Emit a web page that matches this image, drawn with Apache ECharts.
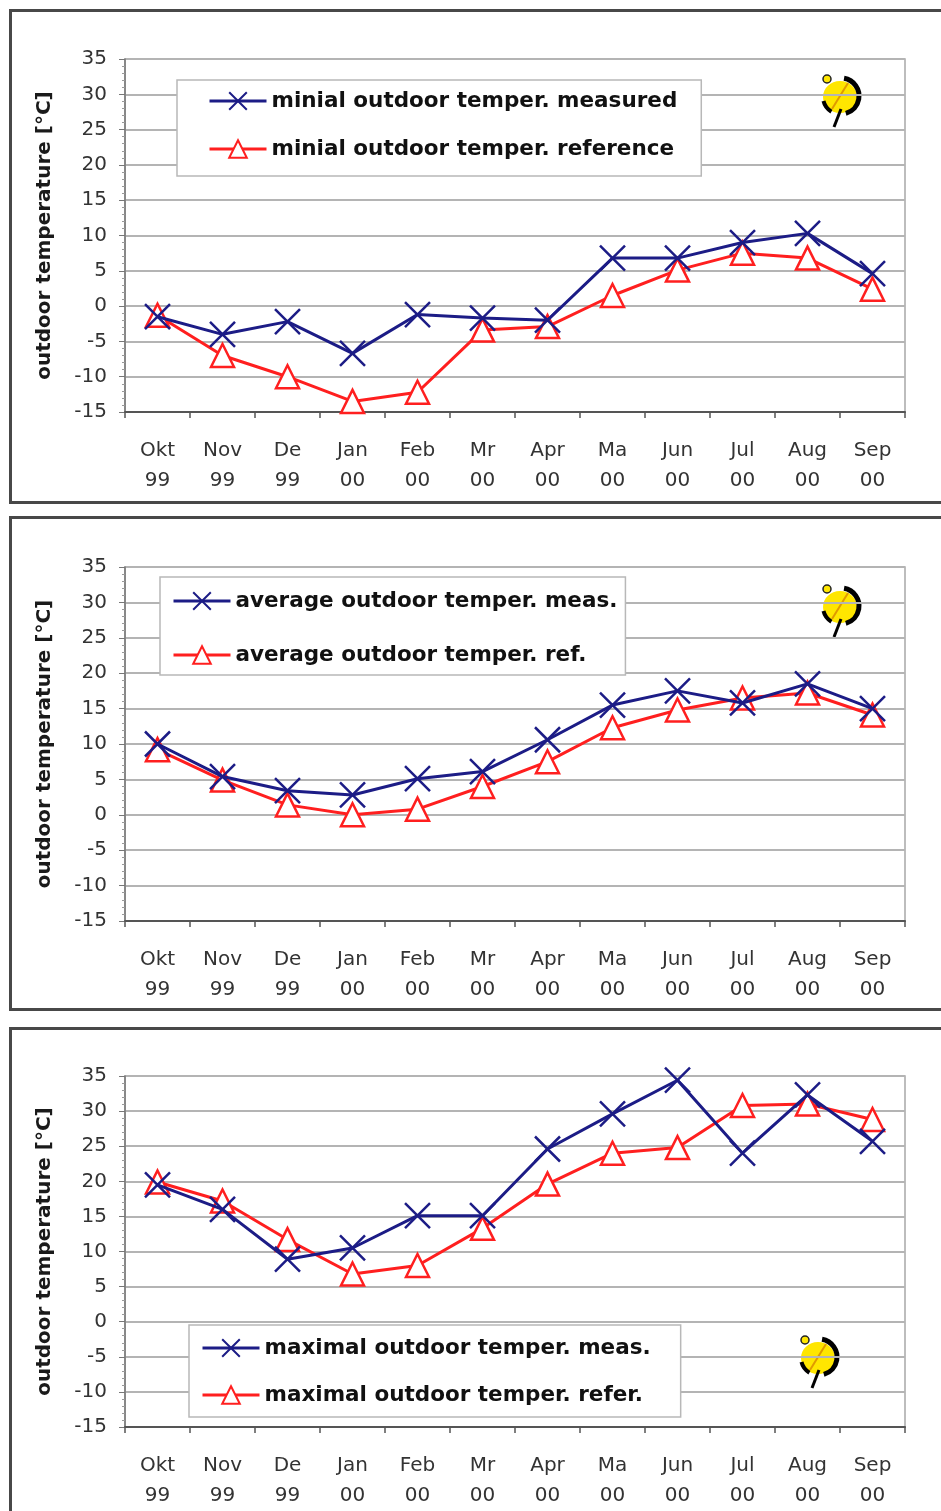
<!DOCTYPE html>
<html>
<head>
<meta charset="utf-8">
<script src="https://cdn.jsdelivr.net/npm/echarts@6/dist/echarts.min.js"></script>
<style>
html,body{margin:0;padding:0;background:#fff;}
#chart{width:941px;height:1511px;}
</style>
</head>
<body>
<div id="chart"></div>
<script>
const months = ['Okt', 'Nov', 'De', 'Jan', 'Feb', 'Mr', 'Apr', 'Ma', 'Jun', 'Jul', 'Aug', 'Sep'];
const years = ['99', '99', '99', '00', '00', '00', '00', '00', '00', '00', '00', '00'];
const yTicks = [-15, -10, -5, 0, 5, 10, 15, 20, 25, 30, 35];

const minMeasured  = [-1.5, -4, -2.2, -6.7, -1.2, -1.7, -2, 6.8, 6.8, 9, 10.3, 4.6];
const minReference = [-1.3, -7, -10, -13.5, -12.2, -3.4, -2.9, 1.5, 5.1, 7.5, 6.8, 2.4];
const avgMeasured  = [10, 5.4, 3.4, 2.8, 5.1, 6.1, 10.6, 15.5, 17.5, 15.8, 18.5, 15];
const avgReference = [9.2, 4.9, 1.4, 0, 0.8, 4, 7.5, 12.3, 14.8, 16.5, 17.2, 14.1];
const maxMeasured  = [19.5, 16, 8.9, 10.5, 15.1, 15.1, 24.6, 29.6, 34.4, 24, 32.3, 25.7];
const maxReference = [19.9, 17.2, 11.7, 6.8, 8, 13.3, 19.6, 24, 24.8, 30.8, 31, 28.8];

const seriesNames = [
  ['minial outdoor temper. measured', 'minial outdoor temper. reference'],
  ['average outdoor temper. meas.', 'average outdoor temper. ref.'],
  ['maximal outdoor temper. meas.', 'maximal outdoor temper. refer.']
];
const seriesData = [[minMeasured, minReference], [avgMeasured, avgReference], [maxMeasured, maxReference]];

const categories = months.map((m, i) => m + '\n' + years[i]);
const BLUE = '#1c1c86';
const RED = '#ff1f1f';
const FONT = 'DejaVu Sans';

const gridTops = [59, 567, 1076];
const gridHeights = [353, 354, 355];
const legendPos = [
  {left: 177, top: 80, padding: [10, 24, 16, 31], itemGap: 26},
  {left: 160, top: 577, padding: [13, 8, 9, 12], itemGap: 32},
  {left: 189, top: 1325, padding: [12, 30, 11, 12], itemGap: 25}
];
const logoPos = [[840, 97], [840, 607], [818, 1358]];
const frameTops = [8, 515, 1026];
const frameHeights = [492, 492, 520];

const grids = [], xAxes = [], yAxes = [], series = [], legends = [], graphics = [];
for (let p = 0; p < 3; p++) {
  grids.push({left: 125, top: gridTops[p], width: 780, height: gridHeights[p], show: true, borderColor: '#a8a8a8', borderWidth: 1.5, backgroundColor: '#fff'});
  xAxes.push({
    type: 'category', gridIndex: p, data: categories, boundaryGap: true,
    axisLine: {onZero: false, lineStyle: {color: '#555', width: 2}},
    axisTick: {show: true, length: 6, lineStyle: {color: '#555', width: 1.5}},
    axisLabel: {color: '#333', fontFamily: FONT, fontSize: 20, lineHeight: 30, margin: 24, interval: 0},
    splitLine: {show: false}
  });
  yAxes.push({
    type: 'value', gridIndex: p, min: -15, max: 35, interval: 5,
    name: 'outdoor temperature [°C]', nameLocation: 'middle', nameRotate: 90, nameGap: 70,
    nameTextStyle: {fontFamily: FONT, fontSize: 20, fontWeight: 'bold', color: '#1a1a1a'},
    axisLine: {show: true, lineStyle: {color: '#777', width: 1.5}},
    axisTick: {show: true, length: 6, lineStyle: {color: '#777'}},
    minorTick: {show: true, splitNumber: 5, length: 3, lineStyle: {color: '#999'}},
    axisLabel: {color: '#333', fontFamily: FONT, fontSize: 20, margin: 18},
    splitLine: {show: true, lineStyle: {color: '#b4b4b4', width: 2}}
  });
  series.push({
    name: seriesNames[p][0], type: 'line', xAxisIndex: p, yAxisIndex: p,
    data: seriesData[p][0], color: BLUE,
    symbol: 'path://M0,0L20,20M20,0L0,20', symbolSize: 25,
    lineStyle: {color: BLUE, width: 3},
    itemStyle: {color: BLUE, borderColor: BLUE, borderWidth: 2.5},
    z: 3, animation: false
  });
  series.push({
    name: seriesNames[p][1], type: 'line', xAxisIndex: p, yAxisIndex: p,
    data: seriesData[p][1], color: RED,
    symbol: 'triangle', symbolSize: 23,
    lineStyle: {color: RED, width: 3},
    itemStyle: {color: '#fff', borderColor: RED, borderWidth: 2.5},
    z: 2, animation: false
  });
  const lp = legendPos[p];
  legends.push({
    data: seriesNames[p], orient: 'vertical', left: lp.left, top: lp.top,
    padding: lp.padding, itemGap: lp.itemGap, itemWidth: 57, itemHeight: 22,
    backgroundColor: '#fff', borderColor: '#b8b8b8', borderWidth: 1.5,
    lineStyle: {width: 3},
    textStyle: {fontFamily: FONT, fontSize: 21.5, fontWeight: 'bold', color: '#111'},
    selectedMode: false
  });
  graphics.push({
    type: 'rect', left: 8, top: frameTops[p], z: -10, silent: true,
    shape: {x: 0, y: 0, width: 960, height: frameHeights[p]},
    style: {fill: 'none', stroke: '#484848', lineWidth: 3}
  });
  const [cx, cy] = logoPos[p];
  graphics.push({
    type: 'group', x: cx, y: cy, z: 100, silent: true,
    children: [
      {type: 'ellipse', shape: {cx: 0, cy: 0, rx: 17, ry: 16}, style: {fill: '#ffe600'}},
      {type: 'line', shape: {x1: -8, y1: 12, x2: 8, y2: -14}, style: {stroke: '#e09a00', lineWidth: 2}},
      {type: 'arc', shape: {cx: 1, cy: -1, r: 18, startAngle: -1.4, endAngle: 1.3}, style: {stroke: '#000', lineWidth: 5, fill: 'none'}},
      {type: 'arc', shape: {cx: 0, cy: 0, r: 17, startAngle: 2.1, endAngle: 2.9}, style: {stroke: '#000', lineWidth: 4, fill: 'none'}},
      {type: 'circle', shape: {cx: -13, cy: -18, r: 4}, style: {fill: '#ffe600', stroke: '#222', lineWidth: 1.5}},
      {type: 'line', shape: {x1: 1, y1: 12, x2: -6, y2: 30}, style: {stroke: '#000', lineWidth: 3}}
    ]
  });
}

const chart = echarts.init(document.getElementById('chart'), null, {renderer: 'canvas'});
chart.setOption({
  backgroundColor: '#fff',
  animation: false,
  grid: grids, xAxis: xAxes, yAxis: yAxes, series: series, legend: legends, graphic: graphics
});
</script>
</body>
</html>
